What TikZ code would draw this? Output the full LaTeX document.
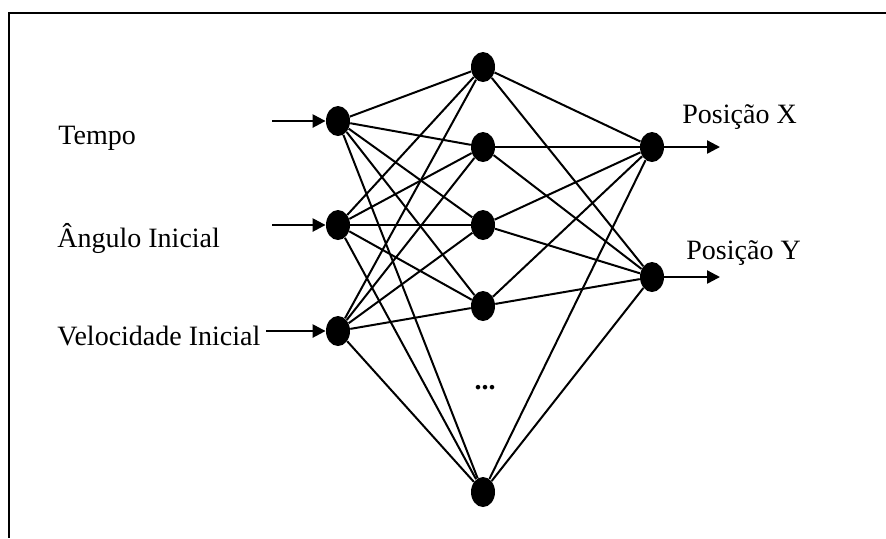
\documentclass[tikz,border=0pt]{standalone}
\usepackage{fontspec}
\setmainfont{Liberation Serif}
\usetikzlibrary{arrows.meta,shapes.geometric}

\tikzset{
  neuronio/.style={ellipse, fill=black, inner sep=0pt, minimum width=12pt, minimum height=15pt},
  rotulo/.style={anchor=base west, inner sep=0pt, font=\fontsize{14}{16}\selectfont},
  seta/.style={line width=1.2pt, -{Triangle[length=6.5pt,width=6.5pt]}},
  liga/.style={line width=1pt}
}

\begin{document}
\begin{tikzpicture}[x=0.5pt,y=-0.5pt]
	\useasboundingbox (0,0) rectangle (886,538);
	% moldura
	\draw [line width=1.2pt] (886,13) -- (9,13) -- (9,538);
	% camadas
	\node [neuronio] (i1) at (338,121) {};
	\node [neuronio] (i2) at (338,225) {};
	\node [neuronio] (i3) at (338,331) {};
	\foreach \y [count=\n] in {67,147,225,306,492}
		\node [neuronio] (h\n) at (483,\y) {};
	\node [neuronio] (o1) at (652,147) {};
	\node [neuronio] (o2) at (652,277) {};
	\node [font=\fontsize{14}{16}\selectfont\bfseries] (pontos) at (485,388) {...};
	% ligacoes
	\foreach \i in {1,2,3}
		\foreach \h in {1,...,5}
			\draw [liga] (i\i) -- (h\h);
	\foreach \h in {1,...,5}
		\foreach \o in {1,2}
			\draw [liga] (h\h) -- (o\o);
	% entradas
	\node [rotulo] (tempo) at (58,144) {Tempo};
	\node [rotulo] (angulo) at (57,247) {Ângulo Inicial};
	\node [rotulo] (veloc) at (57,345) {Velocidade Inicial};
	\coordinate (e1) at (272,121);
	\coordinate (e2) at (272,225);
	\coordinate (e3) at (266,331);
	\foreach \i in {1,2,3}
		\draw [seta] (e\i) -- (i\i);
	% saidas
	\coordinate (s1) at (720,147);
	\coordinate (s2) at (720,277);
	\foreach \o in {1,2}
		\draw [seta] (o\o) -- (s\o);
	\node [rotulo] (posx) at (682,123) {Posição X};
	\node [rotulo] (posy) at (686,259) {Posição Y};
\end{tikzpicture}
\end{document}
